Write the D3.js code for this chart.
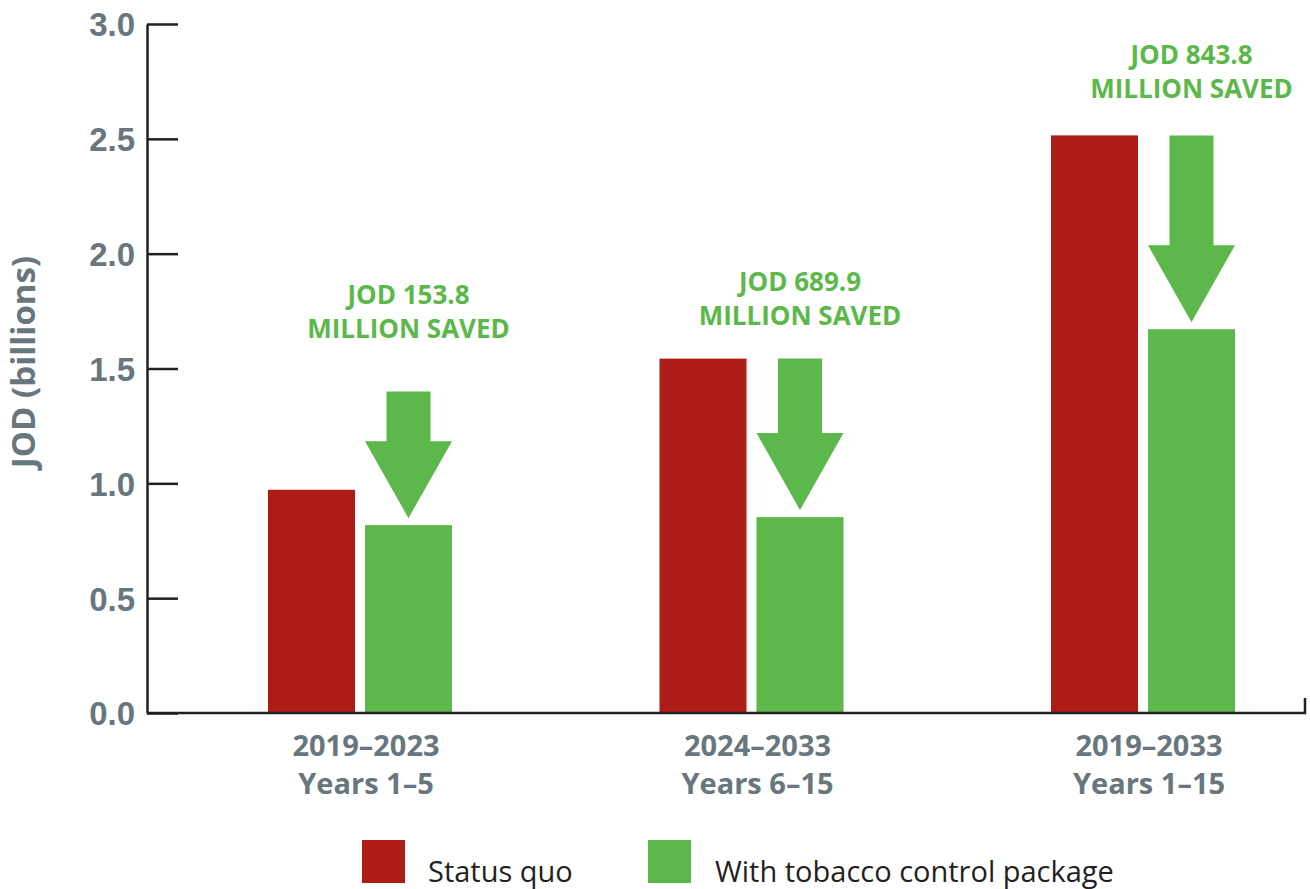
<!DOCTYPE html>
<html>
<head>
<meta charset="utf-8">
<script src="https://cdn.jsdelivr.net/npm/d3@7.9.0/dist/d3.min.js"></script>
<style>
  body { margin: 0; background: #fff; }
  svg { display: block; font-family: "Open Sans", sans-serif; }
</style>
</head>
<body>
<div id="chart"></div>
<script>
// data (JOD billions)
const periods = ["2019–2023", "2024–2033", "2019–2033"];
const yearLabels = ["Years 1–5", "Years 6–15", "Years 1–15"];
const series = ["Status quo", "With tobacco control package"];
const statusQuo = [0.972, 1.543, 2.515];
const withPackage = [0.818, 0.853, 1.671];
const savedText = ["JOD 153.8", "JOD 689.9", "JOD 843.8"];
const arrowTop = [1.40, 1.543, 2.515];     // where each arrow starts (value units)
const savedLabelAt = [1.633, 1.689, 2.678]; // baseline of "MILLION SAVED" (value units)
const yTicks = [0, 0.5, 1, 1.5, 2, 2.5, 3];

const colors = {"Status quo": "#ae1c17", "With tobacco control package": "#5cb84a"};
const grey = "#68767e";
const dark = "#231f20";

const W = 1310, H = 889;
const axisX = 147;

const svg = d3.select("#chart").append("svg")
    .attr("width", W)
    .attr("height", H);

// scales
const y = d3.scaleLinear().domain([0, 3]).range([713, 24]);

const x0 = d3.scaleBand()
    .domain(periods)
    .range([164.25, 1338.75])
    .padding(0);

const x1 = d3.scaleBand()
    .domain(series)
    .range([-92, 92])
    .paddingInner(0.103);

const rows = periods.map((p, i) => ({
    period: p,
    years: yearLabels[i],
    values: [statusQuo[i], withPackage[i]],
    saved: savedText[i],
    top: arrowTop[i],
    labelAt: savedLabelAt[i]
}));
const cx = d => x0(d.period) + x0.bandwidth() / 2;

// y axis, ticks pointing inwards
const yAxis = svg.append("g")
    .attr("transform", "translate(" + axisX + ",0)")
    .call(d3.axisLeft(y)
        .tickValues(yTicks)
        .tickSizeInner(-31)
        .tickSizeOuter(0)
        .tickPadding(12)
        .tickFormat(d3.format(".1f")));
yAxis.select(".domain").attr("stroke", dark).attr("stroke-width", 2.5);
yAxis.selectAll(".tick line").attr("stroke", dark).attr("stroke-width", 2.5);
yAxis.selectAll(".tick text")
    .attr("fill", grey)
    .attr("font-size", 33)
    .attr("font-weight", 700)
    .attr("dy", "0.36em");

// y title
svg.append("text")
    .attr("transform", "translate(35," + 362 + ")rotate(-90)")
    .attr("text-anchor", "middle")
    .attr("fill", grey)
    .attr("font-size", 33)
    .attr("font-weight", 700)
    .text("JOD (billions)");

// bars
const groups = svg.selectAll("g.group")
    .data(rows)
    .enter()
    .append("g")
    .attr("class", "group")
    .attr("transform", d => "translate(" + cx(d) + ",0)");

groups.selectAll("rect")
    .data(d => d.values.map((v, j) => ({key: series[j], value: v})))
    .enter()
    .append("rect")
    .attr("x", d => x1(d.key))
    .attr("y", d => y(d.value))
    .attr("width", x1.bandwidth())
    .attr("height", d => y(0) - y(d.value))
    .attr("fill", d => colors[d.key]);

// x axis line with small end tick
svg.append("path")
    .attr("d", "M" + axisX + "," + y(0) + "H1305V698")
    .attr("fill", "none")
    .attr("stroke", dark)
    .attr("stroke-width", 2.5);

// category labels (set a touch right of the group centre, like the original)
const xl = svg.selectAll("text.xlab")
    .data(rows)
    .enter()
    .append("text")
    .attr("class", "xlab")
    .attr("text-anchor", "middle")
    .attr("fill", grey)
    .attr("font-size", 29)
    .attr("font-weight", 700);
xl.append("tspan").attr("x", d => cx(d) + 6).attr("y", 756).text(d => d.period);
xl.append("tspan").attr("x", d => cx(d) + 6).attr("y", 794).text(d => d.years);

// savings arrows
const green = colors[series[1]];
const gx = d => cx(d) + x1(series[1]) + x1.bandwidth() / 2;
svg.selectAll("path.arrow")
    .data(rows)
    .enter()
    .append("path")
    .attr("class", "arrow")
    .attr("fill", green)
    .attr("d", d => {
        const c = gx(d), t = y(d.top), tip = y(d.values[1]) - 7;
        const head = tip - 77, s = 22, h = x1.bandwidth() / 2;
        return "M" + (c - s) + "," + t + "H" + (c + s) + "V" + head +
            "H" + (c + h) + "L" + c + "," + tip + "L" + (c - h) + "," + head +
            "H" + (c - s) + "Z";
    });

// savings labels
const sl = svg.selectAll("text.saved")
    .data(rows)
    .enter()
    .append("text")
    .attr("class", "saved")
    .attr("text-anchor", "middle")
    .attr("fill", green)
    .attr("font-size", 26)
    .attr("font-weight", 700);
sl.append("tspan").attr("x", gx).attr("y", d => y(d.labelAt) - 34).text(d => d.saved);
sl.append("tspan").attr("x", gx).attr("y", d => y(d.labelAt)).text("MILLION SAVED");

// legend
const legX = [362, 648];
const leg = svg.selectAll("g.legend")
    .data(series)
    .enter()
    .append("g")
    .attr("class", "legend")
    .attr("transform", (d, i) => "translate(" + legX[i] + ",840)");
leg.append("rect")
    .attr("width", 43)
    .attr("height", 43)
    .attr("fill", d => colors[d]);
leg.append("text")
    .attr("x", (d, i) => i === 0 ? 66 : 67)
    .attr("y", 42)
    .attr("fill", dark)
    .attr("font-size", 29)
    .text(d => d);
</script>
</body>
</html>
